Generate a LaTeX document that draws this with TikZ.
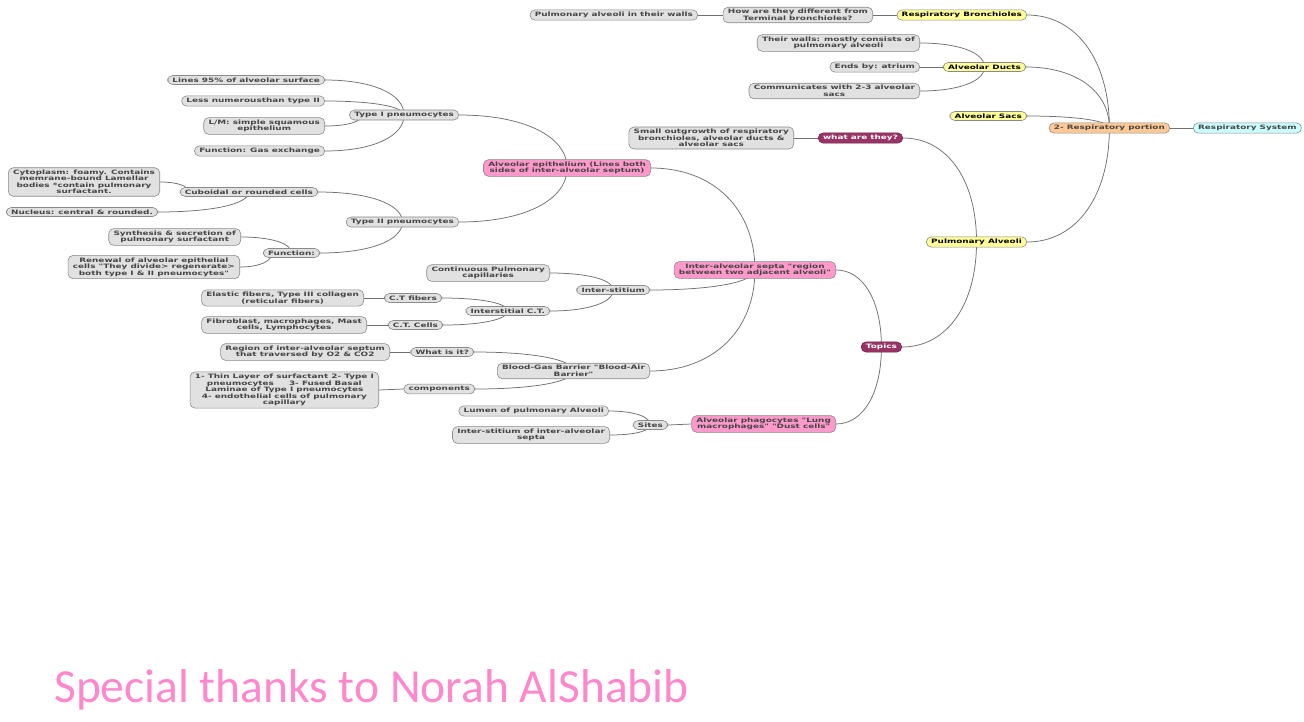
\documentclass[tikz,border=0pt]{standalone}
\usepackage{fontspec}
\newfontfamily\mapfont{DejaVu Sans}[UprightFont={* Bold},FakeStretch=1.48]
\newfontfamily\thanksfont{Carlito}
\usetikzlibrary{backgrounds,calc}
\definecolor{nodegray}{HTML}{E1E1E1}
\definecolor{bordergray}{HTML}{8A8A8A}
\definecolor{textgray}{HTML}{454545}
\definecolor{nodeyellow}{HTML}{FFFF99}
\definecolor{nodeorange}{HTML}{FFC996}
\definecolor{nodecyan}{HTML}{CCFFFF}
\definecolor{nodepink}{HTML}{FF99CC}
\definecolor{nodemag}{HTML}{993366}
\definecolor{magborder}{HTML}{6E2448}
\definecolor{linegray}{HTML}{707070}
\definecolor{thankspink}{HTML}{FF88CC}
\begin{document}
\begin{tikzpicture}[x=1pt,y=-1pt,
  base/.style={draw=bordergray,line width=0.6pt,rounded corners=5pt,align=center,
    font=\mapfont\fontsize{6}{6.5}\selectfont,text=textgray,inner xsep=4.8pt,inner ysep=2.2pt,anchor=east},
  gbox/.style={base,fill=nodegray},
  ybox/.style={base,fill=nodeyellow,text=black},
  pbox/.style={base,fill=nodepink},
  mbox/.style={base,fill=nodemag,draw=magborder,text=white},
  obox/.style={base,fill=nodeorange},
  cbox/.style={base,fill=nodecyan},
  link/.style={draw=linegray,line width=0.75pt},
  elbow/.style={link,to path={.. controls ($(\tikztostart)!0.6!(\tikztostart -| \tikztotarget)$) and ($(\tikztotarget)!0.6!(\tikztostart -| \tikztotarget)$) .. (\tikztotarget)}}
]
\useasboundingbox (0,0) rectangle (1304,721);
% right part
\node[cbox,anchor=west] (RS) at (1193,128) {Respiratory System};
\node[obox] (RP) at (1170,128) {2- Respiratory portion};
\node[ybox] (RB) at (1027,15) {Respiratory Bronchioles};
\node[ybox] (AD) at (1026,67) {Alveolar Ducts};
\node[ybox] (AS) at (1027,116) {Alveolar Sacs};
\node[ybox] (PA) at (1027,242) {Pulmonary Alveoli};
\node[gbox] (HB) at (873,15) {How are they different from\\Terminal bronchioles?};
\node[gbox] (PAW) at (698,15) {Pulmonary alveoli in their walls};
\node[gbox] (TW) at (920,43) {Their walls: mostly consists of\\pulmonary alveoli};
\node[gbox] (EA) at (920,67) {Ends by: atrium};
\node[gbox] (CW) at (920,91) {Communicates with 2-3 alveolar\\sacs};
\node[mbox] (WAT) at (903,138) {what are they?};
\node[gbox] (SO) at (794,138) {Small outgrowth of respiratory\\bronchioles, alveolar ducts \&\\alveolar sacs};
\node[mbox] (Topics) at (902,347) {Topics};
\node[pbox] (IAS) at (836,270) {Inter-alveolar septa "region\\between two adjacent alveoli"};
\node[pbox] (AP) at (836,424) {Alveolar phagocytes "Lung\\macrophages" "Dust cells"};
% epithelium
\node[pbox] (AE) at (651,168) {Alveolar epithelium (Lines both\\sides of inter-alveolar septum)};
\node[gbox] (T1) at (459,115) {Type I pneumocytes};
\node[gbox] (T2) at (459,222) {Type II pneumocytes};
\node[gbox] (L95) at (325,80) {Lines 95\% of alveolar surface};
\node[gbox] (LN) at (325,101) {Less numerousthan type II};
\node[gbox] (LM) at (325,126) {L/M: simple squamous\\epithelium};
\node[gbox] (FG) at (325,151) {Function: Gas exchange};
\node[gbox] (CR) at (318,192) {Cuboidal or rounded cells};
\node[gbox] (FN) at (320,253) {Function:};
\node[gbox] (CY) at (160,182) {Cytoplasm: foamy. Contains\\memrane-bound Lamellar\\bodies *contain pulmonary\\surfactant.};
\node[gbox] (NC) at (158,212) {Nucleus: central \& rounded.};
\node[gbox] (SS) at (241,237) {Synthesis \& secretion of\\pulmonary surfactant};
\node[gbox] (RN) at (240,267) {Renewal of alveolar epithelial\\cells "They divide> regenerate>\\both type I \& II pneumocytes"};
% interstitium
\node[gbox] (IS) at (650,290) {Inter-stitium};
\node[gbox] (CP) at (550,273) {Continuous Pulmonary\\capillaries};
\node[gbox] (IC) at (550,311) {Interstitial C.T.};
\node[gbox] (CF) at (442,298) {C.T fibers};
\node[gbox] (CC) at (443,325) {C.T. Cells};
\node[gbox] (EF) at (364,298) {Elastic fibers, Type III collagen\\(reticular fibers)};
\node[gbox] (FM) at (367,325) {Fibroblast, macrophages, Mast\\cells, Lymphocytes};
% blood-gas barrier
\node[gbox] (BGB) at (650,371) {Blood-Gas Barrier "Blood-Air\\Barrier"};
\node[gbox] (WI) at (474,352) {What is it?};
\node[gbox] (CO) at (475,389) {components};
\node[gbox] (RI) at (390,352) {Region of inter-alveolar septum\\that traversed by O2 \& CO2};
\node[gbox] (C1) at (379,390) {1- Thin Layer of surfactant 2- Type I\\pneumocytes\quad\quad\ 3- Fused Basal\\Laminae of Type I pneumocytes\\4- endothelial cells of pulmonary\\capillary};
% phagocytes
\node[gbox] (SI) at (668,425) {Sites};
\node[gbox] (LU) at (609,411) {Lumen of pulmonary Alveoli};
\node[gbox] (IN) at (610,435) {Inter-stitium of inter-alveolar\\septa};
% thanks
\node[anchor=base west,inner sep=0pt,text=thankspink,font=\thanksfont\fontsize{47.5}{47.5}\selectfont] (TH) at (54,702) {Special thanks to Norah AlShabib};
% entry points
\coordinate (T1in) at ($(T1.west)+(13,0)$);
\coordinate (CRin) at ($(CR.west)+(9,0)$);
\coordinate (FNin) at ($(FN.west)+(9,0)$);
\begin{pgfonlayer}{background}
\fill[white] (0,0) rectangle (1304,721);
\draw[link] (RP.east) -- (RS.west);
\draw[elbow] (RB.east) to (RP.center);
\draw[elbow] (AD.east) to (RP.center);
\draw[elbow] (AS.east) to (RP.center);
\draw[elbow] (PA.east) to (RP.center);
\draw[link] (HB.east) -- (RB.west);
\draw[link] (PAW.east) -- (HB.west);
\draw[elbow] (TW.east) to (AD.center);
\draw[link] (EA.east) -- (AD.west);
\draw[elbow] (CW.east) to (AD.center);
\draw[elbow] (WAT.east) to (PA.center);
\draw[link] (SO.east) -- (WAT.west);
\draw[elbow] (Topics.east) to (PA.center);
\draw[elbow] (IAS.east) to (Topics.center);
\draw[elbow] (AP.east) to (Topics.center);
\draw[elbow] (AE.east) to (IAS.center);
\draw[elbow] (IS.east) to (IAS.center);
\draw[elbow] (BGB.east) to (IAS.center);
\draw[elbow] (T1.east) to (AE.center);
\draw[elbow] (T2.east) to (AE.center);
\draw[elbow] (L95.east) to (T1.center);
\draw[elbow] (LN.east) to (T1.center);
\draw[elbow] (LM.east) to (T1in);
\draw[elbow] (FG.east) to (T1.center);
\draw[elbow] (CR.east) to (T2.center);
\draw[elbow] (FN.east) to (T2.center);
\draw[elbow] (CY.east) to (CRin);
\draw[elbow] (NC.east) to (CR.center);
\draw[elbow] (SS.east) to (FN.center);
\draw[elbow] (RN.east) to (FNin);
\draw[elbow] (CP.east) to (IS.center);
\draw[elbow] (IC.east) to (IS.center);
\draw[elbow] (CF.east) to (IC.center);
\draw[elbow] (CC.east) to (IC.center);
\draw[link] (EF.east) -- (CF.west);
\draw[link] (FM.east) -- (CC.west);
\draw[elbow] (WI.east) to (BGB.center);
\draw[elbow] (CO.east) to (BGB.center);
\draw[link] (RI.east) -- (WI.west);
\draw[link] (C1.east) -- (CO.west);
\draw[link] (SI.east) -- (AP.west);
\draw[elbow] (LU.east) to (SI.center);
\draw[elbow] (IN.east) to (SI.center);
\end{pgfonlayer}
\end{tikzpicture}
\end{document}
